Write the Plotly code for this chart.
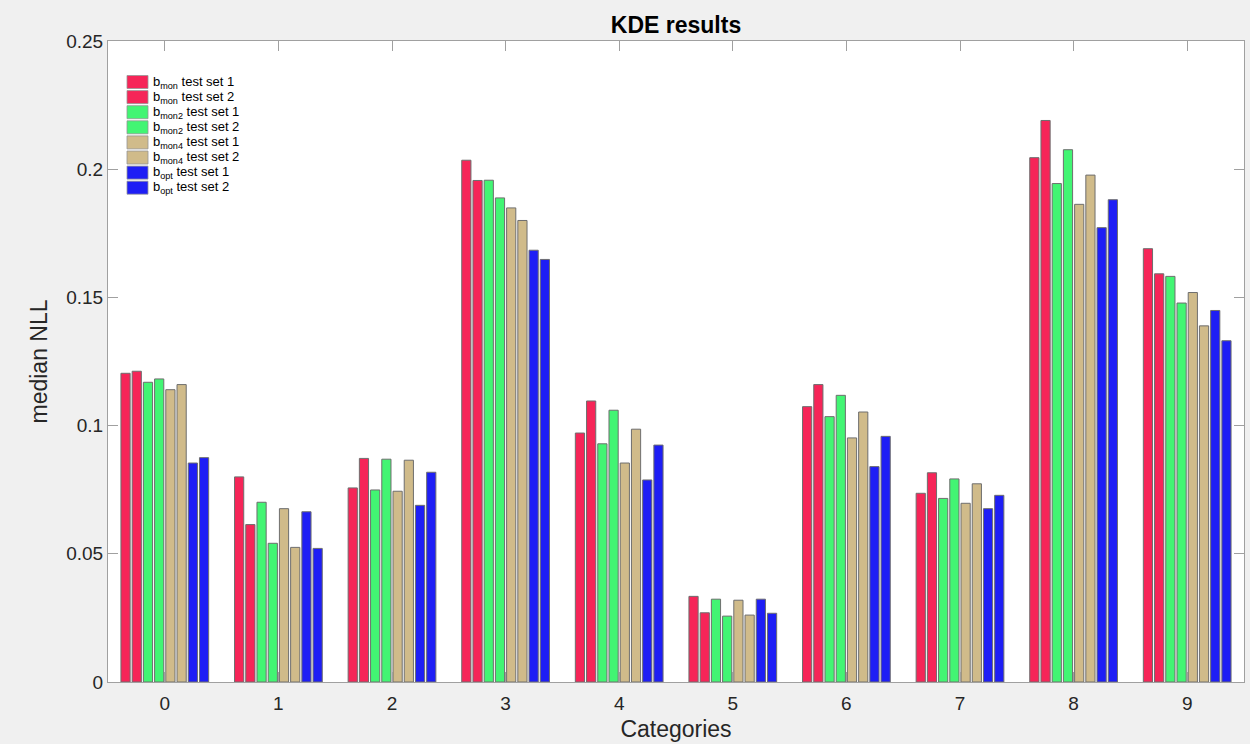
import plotly.graph_objects as go

categories = ["0", "1", "2", "3", "4", "5", "6", "7", "8", "9"]

series_names = [
    "b<sub>mon</sub> test set 1",
    "b<sub>mon</sub> test set 2",
    "b<sub>mon2</sub> test set 1",
    "b<sub>mon2</sub> test set 2",
    "b<sub>mon4</sub> test set 1",
    "b<sub>mon4</sub> test set 2",
    "b<sub>opt</sub> test set 1",
    "b<sub>opt</sub> test set 2",
]

bmon_set1 = [0.1204, 0.0800, 0.0757, 0.2035, 0.0971, 0.0334, 0.1074, 0.0736, 0.2045, 0.1690]
bmon_set2 = [0.1212, 0.0614, 0.0872, 0.1956, 0.1096, 0.0270, 0.1160, 0.0816, 0.2190, 0.1592]
bmon2_set1 = [0.1169, 0.0701, 0.0749, 0.1957, 0.0929, 0.0323, 0.1035, 0.0716, 0.1944, 0.1582]
bmon2_set2 = [0.1182, 0.0541, 0.0869, 0.1888, 0.1060, 0.0257, 0.1118, 0.0792, 0.2076, 0.1478]
bmon4_set1 = [0.1140, 0.0676, 0.0744, 0.1849, 0.0854, 0.0319, 0.0952, 0.0697, 0.1863, 0.1519]
bmon4_set2 = [0.1160, 0.0525, 0.0865, 0.1800, 0.0986, 0.0261, 0.1053, 0.0773, 0.1977, 0.1389]
bopt_set1 = [0.0854, 0.0664, 0.0689, 0.1684, 0.0788, 0.0323, 0.0840, 0.0676, 0.1772, 0.1449]
bopt_set2 = [0.0875, 0.0521, 0.0818, 0.1648, 0.0924, 0.0268, 0.0958, 0.0728, 0.1881, 0.1331]

series_values = [bmon_set1, bmon_set2, bmon2_set1, bmon2_set2,
                 bmon4_set1, bmon4_set2, bopt_set1, bopt_set2]

y_ticks = [0, 0.05, 0.1, 0.15, 0.2, 0.25]
y_tick_labels = ["0", "0.05", "0.1", "0.15", "0.2", "0.25"]

RED = "rgb(246,37,88)"
GREEN = "rgb(66,245,115)"
TAN = "rgb(208,187,138)"
BLUE = "rgb(30,30,245)"
colors = [RED, RED, GREEN, GREEN, TAN, TAN, BLUE, BLUE]

W, H = 1250, 744
ML, MR, MT, MB = 108, 6, 41, 62
PW, PH = W - ML - MR, H - MT - MB

fig = go.Figure()
for name, vals, col in zip(series_names, series_values, colors):
    fig.add_trace(go.Bar(
        x=categories, y=vals, name=name,
        marker=dict(color=col, line=dict(color="rgb(110,110,110)", width=1)),
    ))


def px_x(px):
    return (px - ML) / PW


def px_y(py):
    return 1 - (py - MT) / PH


# compact in-axes legend: swatch + label per series
shapes, annotations = [], []
row_h = 15.1
first_center = 82.0
for i, (name, col) in enumerate(zip(series_names, colors)):
    cy = first_center + i * row_h
    shapes.append(dict(
        type="rect", xref="paper", yref="paper",
        x0=px_x(127), x1=px_x(148), y0=px_y(cy + 6.5), y1=px_y(cy - 6.5),
        fillcolor=col, line=dict(color="rgb(150,150,150)", width=0.8),
    ))
    annotations.append(dict(
        xref="paper", yref="paper", x=px_x(151), y=px_y(cy),
        xanchor="left", yanchor="middle", text=name, showarrow=False,
        font=dict(size=13, color="black"),
    ))

axis_color = "rgb(160,160,160)"
font_family = "Liberation Sans, Arial, sans-serif"
text_color = "rgb(38,38,38)"

fig.update_layout(
    width=W, height=H,
    barmode="group", bargap=0.21, bargroupgap=0.18,
    paper_bgcolor="rgb(240,240,240)", plot_bgcolor="white",
    margin=dict(l=ML, r=MR, t=MT, b=MB),
    font=dict(family=font_family, color=text_color),
    title=dict(text="<b>KDE results</b>", x=(ML + W - MR) / 2 / W, xanchor="center",
               y=1 - 25 / H, yanchor="middle",
               font=dict(size=23, color="black", family=font_family)),
    showlegend=False,
    shapes=shapes,
    annotations=annotations,
    xaxis=dict(
        type="category", range=[-0.5, 9.5],
        showline=True, linecolor=axis_color, linewidth=1, mirror="ticks",
        ticks="inside", ticklen=10, tickcolor=axis_color, tickwidth=1,
        showgrid=False, zeroline=False, ticklabelstandoff=4,
        tickfont=dict(size=19, color=text_color),
        title=dict(text="Categories", font=dict(size=23, color=text_color), standoff=8),
    ),
    yaxis=dict(
        range=[0, 0.25], tickvals=y_ticks, ticktext=y_tick_labels,
        showline=True, linecolor=axis_color, linewidth=1, mirror="ticks",
        ticks="inside", ticklen=10, tickcolor=axis_color, tickwidth=1,
        showgrid=False, zeroline=False,
        tickfont=dict(size=19, color=text_color),
        title=dict(text="median NLL", font=dict(size=23, color=text_color), standoff=12),
    ),
)

fig.write_html("out.html")
